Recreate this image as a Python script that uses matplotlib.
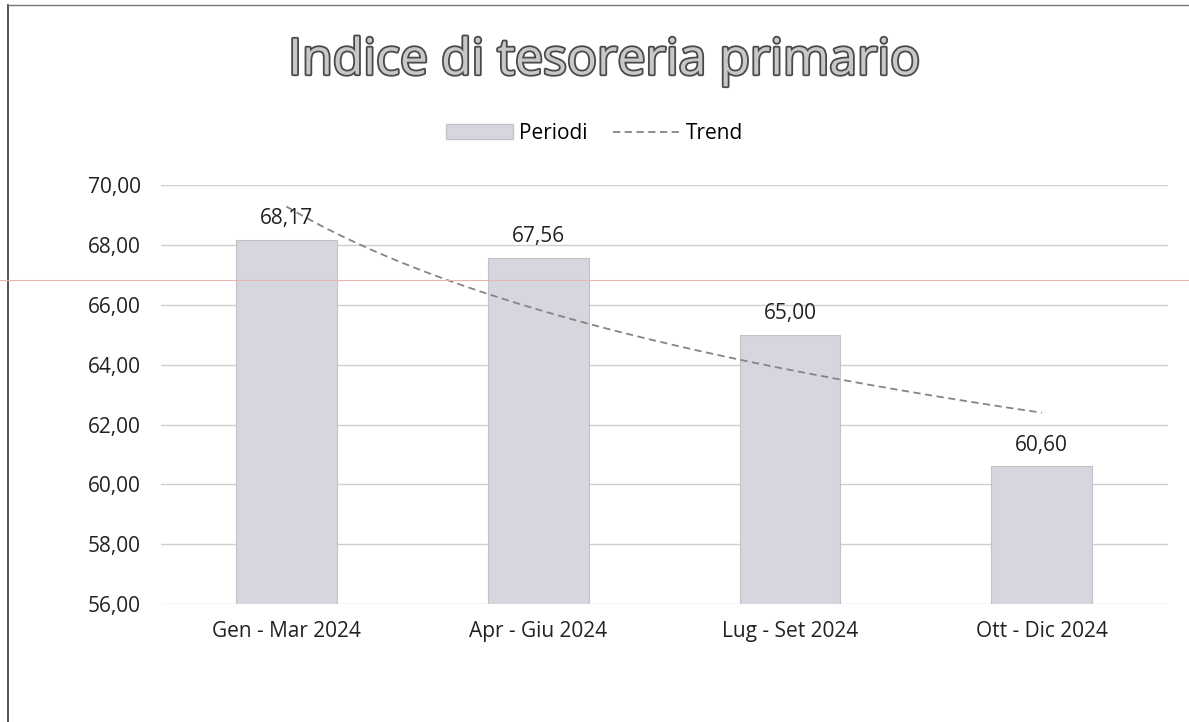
import matplotlib.pyplot as plt
import matplotlib.patheffects as pe
from matplotlib.lines import Line2D
import numpy as np

plt.rcParams['font.family'] = ['Open Sans', 'DejaVu Sans']

# data
periods = ['Gen - Mar 2024', 'Apr - Giu 2024', 'Lug - Set 2024', 'Ott - Dic 2024']
values = [68.17, 67.56, 65.00, 60.60]
y_ticks = [56, 58, 60, 62, 64, 66, 68, 70]

# logarithmic trendline (like Excel) fitted on the bar values
pos = np.arange(1, len(values) + 1)
b, a = np.polyfit(np.log(pos), values, 1)
xs = np.linspace(1, len(values), 200)
trend = a + b * np.log(xs)

fig = plt.figure(figsize=(11.89, 7.22), dpi=100)
ax = fig.add_axes([0.135, 0.163, 0.847, 0.581])

bar_color = '#d6d6de'
ax.bar(np.arange(len(values)), values, width=0.4, color=bar_color,
       edgecolor='#c2c2c8', linewidth=0.8, zorder=2)
ax.plot(xs - 1, trend, linestyle=(0, (4, 2.5)), color='#858585', linewidth=1.3, zorder=3)

for i, v in enumerate(values):
    ax.text(i, v + 0.35, f'{v:.2f}'.replace('.', ','), ha='center', va='bottom',
            fontsize=15, color='#222222', zorder=4)

ax.set_ylim(56, 70)
ax.set_xlim(-0.5, len(values) - 0.5)
ax.set_yticks(y_ticks)
ax.set_yticklabels([f'{t:.2f}'.replace('.', ',') for t in y_ticks], fontsize=15, color='#222222')
ax.set_xticks(np.arange(len(values)))
ax.set_xticklabels(periods, fontsize=15, color='#222222')
ax.tick_params(length=0, pad=14)
ax.tick_params(axis='x', pad=12)
ax.grid(axis='y', color='#cfcfcf', linewidth=1, zorder=0)
ax.set_axisbelow(True)
for s in ax.spines.values():
    s.set_visible(False)

# title with outlined look
fig.text(0.508, 0.915, 'Indice di tesoreria primario', ha='center', va='center',
         fontsize=36, fontweight='normal', color='#c8c8c8',
         path_effects=[pe.withStroke(linewidth=2.6, foreground='#4a4a4a')])

handles = [plt.Rectangle((0, 0), 1, 1, facecolor=bar_color, edgecolor='#c2c2c8'),
           Line2D([0], [0], linestyle=(0, (4, 2.5)), color='#858585', linewidth=1.3)]
fig.legend(handles, ['Periodi', 'Trend'], loc='center', bbox_to_anchor=(0.5, 0.815),
           ncol=2, frameon=False, fontsize=15, handlelength=3.2, columnspacing=1.2,
           handletextpad=0.3)

# scanned page frame and stray red line
fig.add_artist(Line2D([0.007, 0.007], [0, 0.993], color='#333333', linewidth=1.2))
fig.add_artist(Line2D([0.007, 1], [0.993, 0.993], color='#777777', linewidth=1))
fig.add_artist(Line2D([0, 1], [0.612, 0.612], color='#e8b4b4', linewidth=0.8, zorder=5))

fig.savefig('out.png', dpi=100, facecolor='white')
